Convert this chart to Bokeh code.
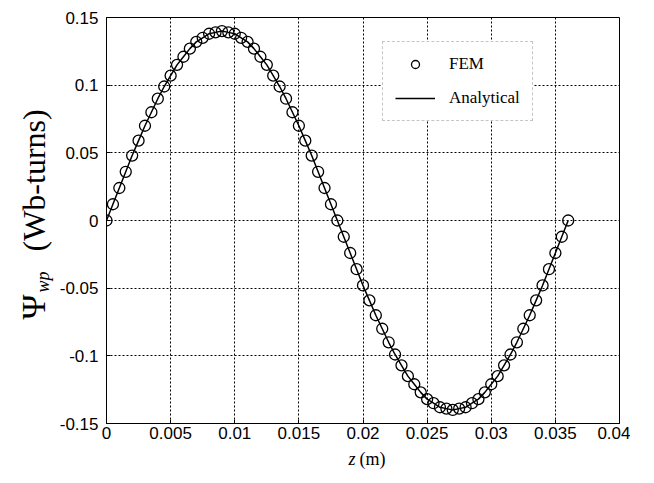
import math
from bokeh.plotting import figure
from bokeh.layouts import row, column
from bokeh.models import FixedTicker, Legend, LegendItem, Label
from bokeh.embed import file_html
from bokeh.resources import INLINE

# ---- data ----
z_fem = [0.0, 0.0005, 0.001, 0.0015, 0.002, 0.0025, 0.003, 0.0035, 0.004, 0.0045,
         0.005, 0.0055, 0.006, 0.0065, 0.007, 0.0075, 0.008, 0.0085, 0.009, 0.0095,
         0.01, 0.0105, 0.011, 0.0115, 0.012, 0.0125, 0.013, 0.0135, 0.014, 0.0145,
         0.015, 0.0155, 0.016, 0.0165, 0.017, 0.0175, 0.018, 0.0185, 0.019, 0.0195,
         0.02, 0.0205, 0.021, 0.0215, 0.022, 0.0225, 0.023, 0.0235, 0.024, 0.0245,
         0.025, 0.0255, 0.026, 0.0265, 0.027, 0.0275, 0.028, 0.0285, 0.029, 0.0295,
         0.03, 0.0305, 0.031, 0.0315, 0.032, 0.0325, 0.033, 0.0335, 0.034, 0.0345,
         0.035, 0.0355, 0.036]
psi_fem = [0.000, 0.012, 0.024, 0.036, 0.048, 0.059, 0.070, 0.080, 0.090, 0.099,
           0.107, 0.115, 0.121, 0.127, 0.132, 0.135, 0.138, 0.139, 0.140, 0.139,
           0.138, 0.135, 0.132, 0.127, 0.121, 0.115, 0.107, 0.099, 0.090, 0.080,
           0.070, 0.059, 0.048, 0.036, 0.024, 0.012, 0.000, -0.012, -0.024, -0.036,
           -0.048, -0.059, -0.070, -0.080, -0.090, -0.099, -0.107, -0.115, -0.121, -0.127,
           -0.132, -0.135, -0.138, -0.139, -0.140, -0.139, -0.138, -0.135, -0.132, -0.127,
           -0.121, -0.115, -0.107, -0.099, -0.090, -0.080, -0.070, -0.059, -0.048, -0.036,
           -0.024, -0.012, 0.000]
z_analytical = z_fem
psi_analytical = psi_fem

x_ticks = [0.0, 0.005, 0.01, 0.015, 0.02, 0.025, 0.03, 0.035, 0.04]
x_tick_labels = ["0", "0.005", "0.01", "0.015", "0.02", "0.025", "0.03", "0.035", "0.04"]
y_ticks = [-0.15, -0.1, -0.05, 0.0, 0.05, 0.1, 0.15]
y_tick_labels = ["-0.15", "-0.1", "-0.05", "0", "0.05", "0.1", "0.15"]

SERIF = "Liberation Serif"
SANS = "Liberation Sans"

YL_W = 56          # width of the y-label strip
FRAME_LEFT = 106   # page x of the plot frame's left edge
FRAME_RIGHT = 619
MAIN_W, MAIN_H = FRAME_RIGHT - YL_W + 11, 447
XL_H = 28          # height of the x-label strip
TOTAL_H = MAIN_H + XL_H

p = figure(width=MAIN_W, height=MAIN_H, x_range=(0, 0.04), y_range=(-0.15, 0.15),
           output_backend="svg", toolbar_location=None,
           min_border_left=FRAME_LEFT - YL_W, min_border_right=11,
           min_border_top=17, min_border_bottom=24)
p.background_fill_color = "white"
p.border_fill_color = "white"
p.outline_line_color = "black"
p.outline_line_width = 1

for ax, ticks, labels in ((p.xaxis[0], x_ticks, x_tick_labels), (p.yaxis[0], y_ticks, y_tick_labels)):
    ax.ticker = FixedTicker(ticks=ticks)
    ax.major_label_overrides = {t: l for t, l in zip(ticks, labels)}
    ax.major_label_text_font = SANS
    ax.major_label_text_font_size = "17px"
    ax.major_label_text_color = "black"
    ax.axis_line_color = "black"
    ax.major_tick_in = 4
    ax.major_tick_out = 0
    ax.major_tick_line_color = "black"
    ax.minor_tick_line_color = None
p.yaxis.major_label_standoff = 8
p.xaxis.major_label_standoff = 3

for g in (p.xgrid[0], p.ygrid[0]):
    g.grid_line_color = "black"
    g.grid_line_dash = "2 2"
    g.grid_line_width = 1

ln = p.line(z_analytical, psi_analytical, line_color="black", line_width=1.5)
sc = p.scatter(z_fem, psi_fem, marker="circle", size=11, fill_color=None,
               line_color="black", line_width=1.3)

legend = Legend(items=[LegendItem(label="FEM", renderers=[sc]),
                       LegendItem(label="Analytical", renderers=[ln])],
                location=(276, 302), glyph_width=40, glyph_height=20, label_height=20,
                label_standoff=14, padding=12, spacing=14, margin=0,
                border_line_color="#8c8c8c", border_line_width=1, border_line_dash="3 1",
                background_fill_color="white", background_fill_alpha=1.0,
                label_text_font=SERIF, label_text_font_size="17px", label_text_color="black")
p.add_layout(legend)


def strip(w, h):
    f = figure(width=w, height=h, x_range=(0, 1), y_range=(0, 1),
               x_axis_type=None, y_axis_type=None, output_backend="svg",
               toolbar_location=None, min_border=0)
    f.grid.visible = False
    f.outline_line_color = None
    f.background_fill_color = "white"
    f.border_fill_color = "white"
    return f


# y axis label strip: Psi_wp (Wb-turns); y measured from the strip bottom
yl = strip(YL_W, TOTAL_H)
yl.add_layout(Label(x=33, y=TOTAL_H - 319, x_units="screen", y_units="screen", text="Ψ",
                    angle=math.pi / 2, text_font=SERIF, text_font_size="34px",
                    text_align="left", text_baseline="alphabetic", text_color="black"))
yl.add_layout(Label(x=42, y=TOTAL_H - 292, x_units="screen", y_units="screen", text="wp",
                    angle=math.pi / 2, text_font=SERIF, text_font_size="18px",
                    text_font_style="italic",
                    text_align="left", text_baseline="alphabetic", text_color="black"))
yl.add_layout(Label(x=33, y=TOTAL_H - 251, x_units="screen", y_units="screen", text="(Wb-turns)",
                    angle=math.pi / 2, text_font=SERIF, text_font_size="32px",
                    text_align="left", text_baseline="alphabetic", text_color="black"))

# x axis label strip: z (m); its frame is aligned with the main frame
xl = strip(MAIN_W, XL_H)
xl.add_layout(Label(x=348 - FRAME_LEFT, y=TOTAL_H - 458, x_units="screen", y_units="screen", text="z",
                    text_font=SERIF, text_font_size="18px", text_font_style="italic",
                    text_align="left", text_baseline="alphabetic", text_color="black"))
xl.add_layout(Label(x=359 - FRAME_LEFT, y=TOTAL_H - 458, x_units="screen", y_units="screen", text="(m)",
                    text_font=SERIF, text_font_size="18px",
                    text_align="left", text_baseline="alphabetic", text_color="black"))

layout = row(yl, column(p, xl, spacing=0), spacing=0)

open("out.html", "w").write(file_html(layout, INLINE))
